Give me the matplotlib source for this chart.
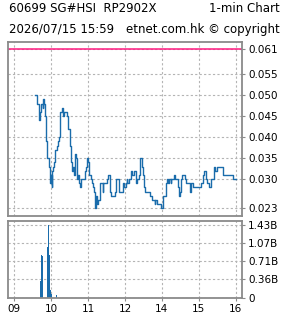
import matplotlib
matplotlib.use('Agg')
import matplotlib.pyplot as plt

matplotlib.rcParams['font.family'] = ['Liberation Sans Narrow', 'DejaVu Sans']

# price line (1-min)
times = ['09:33', '09:36', '09:37', '09:41', '09:42', '09:44', '09:46', '09:47', '09:49', '09:50',
         '09:52', '09:53', '09:54', '09:56', '09:58', '09:59', '10:01', '10:02', '10:03', '10:05',
         '10:07', '10:09', '10:11', '10:12', '10:14', '10:15', '10:17', '10:19', '10:21', '10:23',
         '10:25', '10:27', '10:28', '10:31', '10:32', '10:34', '10:35', '10:37', '10:39', '10:41',
         '10:42', '10:44', '10:46', '10:47', '10:49', '10:53', '10:55', '10:57', '10:58', '11:00',
         '11:01', '11:03', '11:05', '11:06', '11:08', '11:10', '11:11', '11:13', '11:14', '11:16',
         '11:19', '11:24', '11:25', '11:30', '11:33', '11:35', '11:36', '11:38', '11:44', '11:45',
         '11:50', '11:56', '11:57', '11:59', '13:01', '13:03', '13:04', '13:06', '13:10', '13:12',
         '13:14', '13:18', '13:20', '13:23', '13:25', '13:27', '13:30', '13:31', '13:33', '13:41',
         '13:44', '13:48', '13:49', '13:52', '13:59', '14:01', '14:02', '14:06', '14:07', '14:09',
         '14:10', '14:12', '14:14', '14:15', '14:19', '14:22', '14:26', '14:27', '14:29', '14:31',
         '14:32', '14:37', '14:39', '14:46', '14:47', '14:51', '15:04', '15:06', '15:07', '15:09',
         '15:11', '15:12', '15:14', '15:17', '15:19', '15:24', '15:25', '15:27', '15:29', '15:39',
         '15:40', '15:43', '15:55', '16:00']
prices = [0.050, 0.050, 0.048, 0.044, 0.046, 0.048, 0.047, 0.049, 0.048, 0.045,
          0.039, 0.036, 0.035, 0.033, 0.029, 0.031, 0.028, 0.032, 0.033, 0.034,
          0.037, 0.038, 0.039, 0.040, 0.042, 0.046, 0.047, 0.045, 0.046, 0.046,
          0.045, 0.043, 0.042, 0.038, 0.034, 0.032, 0.033, 0.031, 0.036, 0.035,
          0.030, 0.031, 0.029, 0.028, 0.030, 0.030, 0.032, 0.033, 0.035, 0.034,
          0.031, 0.031, 0.030, 0.029, 0.028, 0.027, 0.023, 0.026, 0.024, 0.025,
          0.029, 0.027, 0.029, 0.030, 0.031, 0.030, 0.027, 0.026, 0.027, 0.030,
          0.027, 0.027, 0.029, 0.028, 0.029, 0.030, 0.029, 0.030, 0.032, 0.031,
          0.032, 0.029, 0.030, 0.031, 0.035, 0.033, 0.031, 0.028, 0.027, 0.026,
          0.025, 0.024, 0.025, 0.024, 0.023, 0.024, 0.026, 0.028, 0.029, 0.030,
          0.029, 0.030, 0.029, 0.030, 0.031, 0.030, 0.028, 0.026, 0.027, 0.030,
          0.031, 0.030, 0.029, 0.027, 0.029, 0.028, 0.029, 0.030, 0.031, 0.032,
          0.031, 0.030, 0.029, 0.028, 0.030, 0.031, 0.033, 0.032, 0.033, 0.032,
          0.031, 0.031, 0.030, 0.030]
ref_price = 0.061

vol_times = ['09:43', '09:44', '09:46', '09:54', '09:55', '09:57', '09:59', '10:00', '10:09']
vol_values = [0.33e9, 0.85e9, 0.83e9, 1.00e9, 1.43e9, 0.84e9, 0.14e9, 0.06e9, 0.04e9]

price_ticks = [0.023, 0.030, 0.035, 0.040, 0.045, 0.050, 0.055, 0.061]
hour_ticks = ['09:00', '10:00', '11:00', '12:00', '14:00', '15:00', '16:00']
hour_labels = ['09', '10', '11', '12', '14', '15', '16']
vol_max = 1.43e9
vol_labels = ['0', '0.36B', '0.71B', '1.07B', '1.43B']


def tradeMinute(t):
    # lunch hour 12:00-13:00 is squeezed out of the axis
    h, m = [int(s) for s in t.split(':')]
    if h >= 13:
        h -= 1
    return (h - 9) * 60 + m


blue = '#1a6cab'
frame = '#8a8a8a'
gridc = '#b4b4b4'
xlim = (-10.2, 370.2)
xt = [tradeMinute(t) for t in hour_ticks]

fig = plt.figure(figsize=(2.85, 3.18), dpi=100)

ax = fig.add_axes([8/285, 102/318, 234/285, 174/318])
ax.plot([tradeMinute(t) for t in times], prices, color=blue, lw=1.0, drawstyle='steps-post')
ax.axhline(ref_price, color='#ff1a80', lw=1.1)
ax.set_xlim(xlim)
ax.set_ylim(0.0212, 0.0627)
ax.set_xticks(xt)
ax.set_xticklabels([])
ax.set_yticks(price_ticks)
ax.set_yticklabels(['%.3f' % p for p in price_ticks])

axv = fig.add_axes([8/285, 20.5/318, 234/285, 76.5/318])
axv.bar([tradeMinute(t) for t in vol_times], vol_values, width=1.8, color=blue, align='center')
axv.set_xlim(xlim)
axv.set_ylim(0, 1.517e9)
axv.set_xticks(xt)
axv.set_xticklabels(hour_labels)
axv.set_yticks([0, vol_max/4, vol_max/2, 3*vol_max/4, vol_max])
axv.set_yticklabels(vol_labels)

for a in (ax, axv):
    a.yaxis.tick_right()
    a.grid(True, color=gridc, ls=(0, (2, 2)), lw=0.8)
    a.set_axisbelow(True)
    for s in a.spines.values():
        s.set_color(frame)
        s.set_linewidth(1.3)
    a.tick_params(axis='both', length=2.5, width=0.8, color=frame, labelsize=7.5, pad=2)
ax.tick_params(axis='x', length=0)

fig.text(9/285, 1 - 9/318, '60699 SG#HSI  RP2902X', fontsize=8.5, va='center', ha='left')
fig.text(280/285, 1 - 9/318, '1-min Chart', fontsize=8.5, va='center', ha='right')
fig.text(9/285, 1 - 29/318, '2026/07/15 15:59', fontsize=8.5, va='center', ha='left')
fig.text(280/285, 1 - 29/318, 'etnet.com.hk \u00a9 copyright', fontsize=8.5, va='center', ha='right')

fig.savefig('out.png', dpi=100)
